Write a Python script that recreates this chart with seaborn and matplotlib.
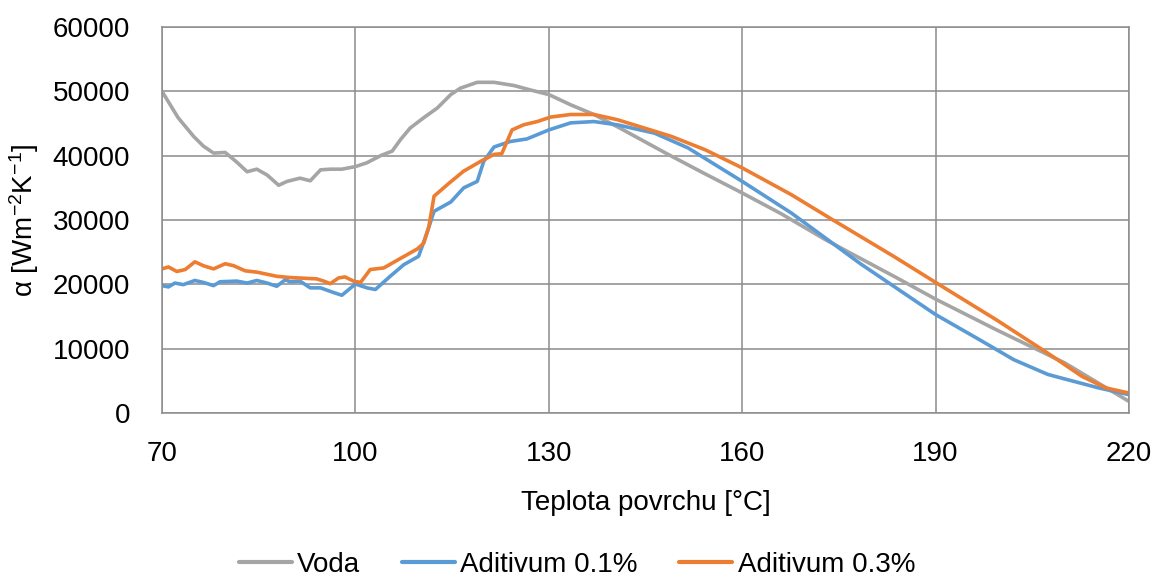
import pandas as pd
import matplotlib
matplotlib.use("Agg")
import matplotlib.pyplot as plt
import seaborn as sns

# values
voda_t = [70, 72.5, 74.9, 76.4, 78, 79.8, 81.6, 83.2, 84.7, 86.3, 88.1, 89.4, 91.4, 93,
          94.6, 96.1, 97.9, 100, 101.8, 103.9, 105.7, 107, 108.5, 110.6, 112.7, 114.8,
          116.3, 118.9, 121.5, 124.6, 127.2, 130, 133.4, 137, 141, 148.6, 154, 160, 166,
          172.9, 178.2, 184, 190, 199.4, 210, 220]
voda_a = [50000, 45900, 43000, 41500, 40400, 40500, 39000, 37500, 37900, 37000, 35400,
          36000, 36500, 36100, 37800, 37900, 37900, 38300, 38900, 40000, 40700, 42500,
          44300, 45900, 47400, 49500, 50500, 51400, 51400, 50900, 50200, 49500, 47900,
          46400, 44300, 40150, 37300, 34200, 31000, 26950, 24100, 21000, 17700, 12950,
          7800, 1800]

ad1_t = [70, 71, 72, 73.3, 75.1, 76.4, 78, 79, 81.6, 83.2, 84.7, 86.3, 87.8, 89.1, 89.9,
         91.4, 93, 94.6, 96.4, 97.9, 100, 101.8, 103.1, 105.4, 107.5, 109.8, 111.1, 112.2,
         114.8, 116.8, 118.9, 119.9, 121.5, 124, 126.6, 130, 133.4, 137, 140.6, 146.4,
         151.6, 160, 167.6, 174, 178.2, 183.5, 190, 196.8, 202.1, 207.4, 210, 215.3, 220]
ad1_a = [19800, 19600, 20200, 19950, 20600, 20300, 19800, 20400, 20500, 20200, 20600,
         20200, 19700, 20700, 20400, 20500, 19450, 19450, 18800, 18300, 20050, 19450,
         19200, 21250, 23050, 24350, 28000, 31350, 32800, 35000, 36000, 39100, 41350,
         42200, 42600, 44000, 45100, 45300, 44800, 43500, 41200, 36000, 31100, 26400,
         23300, 19700, 15300, 11400, 8300, 6000, 5300, 3900, 2850]

ad3_t = [70, 71, 72.3, 73.6, 75.1, 76.4, 78, 79.8, 81.1, 82.9, 84.7, 87.8, 89.9, 92, 94,
         95.1, 96.1, 97.4, 98.4, 99.7, 100.8, 102.3, 104.4, 106.5, 109.6, 110.6, 111.4,
         112.2, 114.5, 116.8, 119.4, 121.5, 122.7, 124.3, 126.1, 128.2, 130.3, 133.4, 137,
         140.6, 149, 154.3, 160, 167.6, 174, 183.5, 190, 199.4, 207.4, 212.7, 216.4, 220]
ad3_a = [22400, 22700, 22000, 22300, 23500, 22900, 22400, 23200, 22900, 22100, 21900,
         21250, 21050, 20950, 20850, 20500, 20100, 21000, 21150, 20500, 20300, 22300,
         22550, 23750, 25500, 26400, 29000, 33700, 35700, 37600, 39100, 40200, 40300,
         44000, 44800, 45300, 46000, 46400, 46400, 45600, 43000, 40900, 38100, 33950,
         30050, 24350, 20300, 14500, 9300, 5700, 3900, 3100]

series = ["Voda", "Aditivum 0.1%", "Aditivum 0.3%"]
colors = ["#A5A5A5", "#5B9BD5", "#ED7D31"]
x_ticks = [70, 100, 130, 160, 190, 220]
y_ticks = [0, 10000, 20000, 30000, 40000, 50000, 60000]

df = pd.concat([
    pd.DataFrame({"T": voda_t, "alpha": voda_a, "serie": series[0]}),
    pd.DataFrame({"T": ad1_t, "alpha": ad1_a, "serie": series[1]}),
    pd.DataFrame({"T": ad3_t, "alpha": ad3_a, "serie": series[2]}),
], ignore_index=True)

sns.set_theme(style="white")
plt.rcParams["font.family"] = ["Liberation Sans", "DejaVu Sans"]
plt.rcParams["mathtext.fontset"] = "custom"
plt.rcParams["mathtext.rm"] = "Liberation Sans"
plt.rcParams["mathtext.it"] = "Liberation Sans"
plt.rcParams["text.color"] = "black"
plt.rcParams["axes.labelcolor"] = "black"

grid_c = "#8C8C8C"
fig = plt.figure(figsize=(11.54, 5.77), dpi=100)
ax = fig.add_axes([162 / 1154, 1 - 413 / 577, (1129 - 162) / 1154, (413 - 27) / 577])

sns.lineplot(data=df, x="T", y="alpha", hue="serie", hue_order=series,
             palette=dict(zip(series, colors)), linewidth=2.6, sort=False,
             estimator=None, ax=ax, legend=False)

ax.set_xlim(70, 220)
ax.set_ylim(0, 60000)
ax.set_xticks(x_ticks)
ax.set_yticks(y_ticks)
ax.grid(True, color=grid_c, linewidth=1.1)
ax.set_axisbelow(True)
for s in ax.spines.values():
    s.set_color(grid_c)
    s.set_linewidth(1.1)
ax.tick_params(axis="both", which="major", direction="out", length=7, width=1.1,
               color=grid_c, labelsize=20, labelcolor="black")
ax.tick_params(axis="y", pad=16)
ax.tick_params(axis="x", pad=13)
ax.set_xlabel("Teplota povrchu [°C]", fontsize=20, labelpad=17, color="black")
ax.set_ylabel(r"α [Wm$^{-2}$K$^{-1}$]", fontsize=20, labelpad=8, color="black")

handles = [plt.Line2D([], [], color=c, linewidth=3) for c in colors]
fig.legend(handles, series, loc="center", bbox_to_anchor=(0.5, 0.021), ncol=3,
           frameon=False, fontsize=20, handlelength=1.9, handletextpad=0.2,
           columnspacing=1.5, labelcolor="black")

fig.savefig("out.png", dpi=100)
